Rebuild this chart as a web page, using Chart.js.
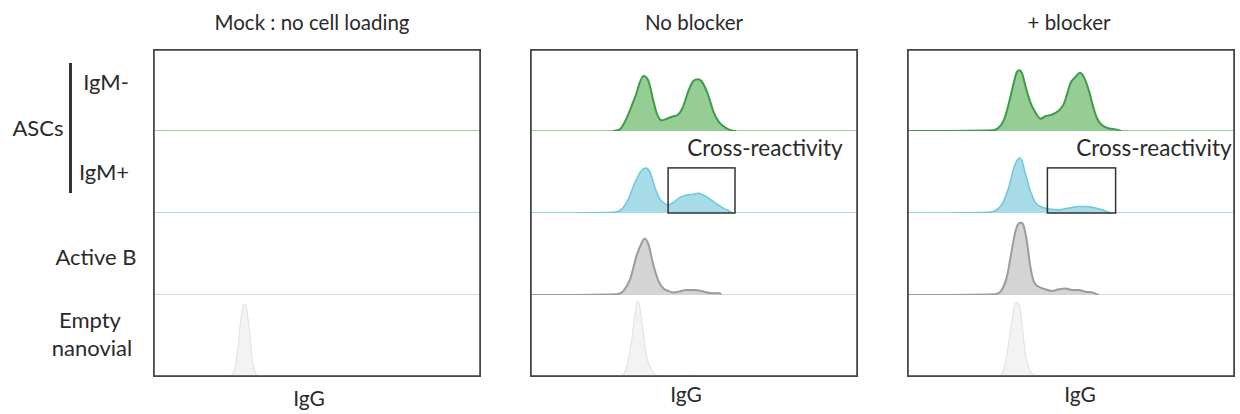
<!DOCTYPE html>
<html>
<head>
<meta charset="utf-8">
<script src="https://cdn.jsdelivr.net/npm/chart.js@4.4.0/dist/chart.umd.min.js"></script>
<style>
  body { margin: 0; width: 1240px; height: 414px; background: #fff; position: relative; overflow: hidden;
         font-family: Lato, "Open Sans", sans-serif; color: #2a2a2a; }
  .lbl { position: absolute; white-space: nowrap; line-height: 1; transform: translate(-50%, -50%); }
  .big { font-size: 22px; }
  .title { font-size: 20.5px; }
  .panel { position: absolute; top: 49px; width: 328px; height: 328px; }
  #bracket { position: absolute; left: 69px; top: 63px; width: 2.5px; height: 130px; background: #333; }
</style>
</head>
<body>

<div class="lbl title" style="left:312px; top:22px">Mock : no cell loading</div>
<div class="lbl title" style="left:694px; top:22px">No blocker</div>
<div class="lbl title" style="left:1069px; top:22px">+ blocker</div>

<div class="lbl big" style="left:38px; top:128px">ASCs</div>
<div id="bracket"></div>
<div class="lbl big" style="left:106px; top:82px">IgM-</div>
<div class="lbl big" style="left:104px; top:172px">IgM+</div>
<div class="lbl big" style="left:96px; top:257px">Active B</div>
<div class="lbl big" style="left:90px; top:320px">Empty</div>
<div class="lbl big" style="left:92px; top:348px">nanovial</div>

<div class="lbl big" style="left:765px; top:148px; font-size:22.5px">Cross-reactivity</div>
<div class="lbl big" style="left:1154px; top:148px; font-size:22.5px">Cross-reactivity</div>

<div class="lbl big" style="left:309px; top:397px; font-size:21px">IgG</div>
<div class="lbl big" style="left:686px; top:393px; font-size:21px">IgG</div>
<div class="lbl big" style="left:1080px; top:393px; font-size:21px">IgG</div>

<div class="panel" style="left:153px"><canvas id="mock" width="328" height="328"></canvas></div>
<div class="panel" style="left:530px"><canvas id="noBlocker" width="328" height="328"></canvas></div>
<div class="panel" style="left:907px"><canvas id="blocker" width="328" height="328"></canvas></div>

<script>
// IgG position (% of axis) and counts (% of row max)

// Mock : no cell loading
const mockIgMnegX = [0, 100];
const mockIgMnegY = [0, 0];
const mockIgMposX = [0, 100];
const mockIgMposY = [0, 0];
const mockActiveX = [0, 100];
const mockActiveY = [0, 0];
const mockEmptyX = [0, 23.0, 25.0, 26.0, 26.7, 27.5, 27.9, 28.5, 29.4, 30.3, 31.6, 32.6, 100];
const mockEmptyY = [0, 1, 11, 40, 68, 87, 89, 85, 56, 20, 2, 0, 0];

// No blocker
const noBlkIgMnegX = [0, 25.2, 27.4, 29.5, 32.0, 34.6, 36.1, 37.6, 38.8, 40.1, 41.7, 43.7, 45.2, 46.7, 48.3,
  49.8, 51.3, 52.6, 54.4, 55.9, 57.4, 58.9, 60.5, 62.8, 100];
const noBlkIgMnegY = [0, 0, 2, 16, 41, 67, 61, 37, 20, 13, 15, 18, 20, 30, 49,
  61, 63, 59, 43, 24, 12, 6, 2, 0, 0];
const noBlkIgMposX = [0, 25.6, 27.4, 29.5, 32.0, 34.0, 35.3, 36.6, 38.1, 39.6, 41.2, 42.2, 43.7, 45.7, 47.8,
  49.8, 51.3, 52.8, 54.9, 56.9, 58.9, 60.5, 62.0, 100];
const noBlkIgMposY = [0, 1, 3, 13, 37, 52, 55, 50, 31, 17, 11, 10, 13, 19, 22,
  23, 24, 22, 17, 11, 6, 3, 0, 0];
const noBlkActiveX = [0, 26.6, 28.5, 30.5, 32.5, 34.1, 34.9, 36.1, 37.6, 39.2, 40.7, 42.2, 43.7, 45.2, 47.8,
  49.8, 52.3, 53.9, 55.9, 57.9, 58.4, 100];
const noBlkActiveY = [0, 1, 5, 19, 48, 64, 69, 62, 37, 17, 8, 5, 3, 4, 6,
  6, 5, 3, 2, 2, 0, 0];
const noBlkEmptyX = [0, 26.9, 29.0, 30.5, 31.5, 32.3, 32.8, 33.5, 34.6, 35.6, 37.2, 38.7, 41.7, 50.8, 52.3, 100];
const noBlkEmptyY = [0, 1, 7, 32, 60, 85, 93, 85, 52, 24, 7, 2, 1, 2, 0, 0];

// + blocker
const blkIgMnegX = [0, 26.4, 27.9, 29.5, 31.0, 32.5, 33.5, 34.3, 35.1, 36.3, 37.6, 39.1, 40.7, 42.2, 44.2,
  46.3, 47.8, 48.8, 49.8, 51.4, 52.7, 53.9, 55.4, 56.8, 58.0, 59.5, 61.6, 63.6, 65.7, 100];
const blkIgMnegY = [0, 1, 4, 13, 33, 58, 72, 74, 70, 52, 35, 23, 15, 18, 20,
  25, 33, 45, 58, 66, 71, 66, 50, 29, 15, 7, 3, 2, 0, 0];
const blkIgMposX = [0, 24.9, 26.9, 29.0, 31.0, 32.5, 33.5, 34.3, 35.1, 36.1, 37.6, 39.1, 41.2, 43.2, 46.3,
  49.3, 52.4, 54.4, 56.5, 59.5, 62.6, 100];
const blkIgMposY = [0, 1, 3, 11, 31, 54, 64, 67, 63, 48, 27, 13, 7, 5, 4,
  6, 8, 8, 7, 4, 0, 0];
const blkActiveX = [0, 26.9, 29.0, 30.5, 32.0, 33.2, 34.0, 34.8, 35.6, 36.6, 37.6, 38.6, 40.2, 42.2, 44.2,
  46.3, 48.3, 50.4, 52.4, 54.4, 56.5, 58.7, 100];
const blkActiveY = [0, 1, 7, 23, 56, 80, 87, 88, 84, 64, 35, 17, 10, 7, 5,
  7, 8, 6, 6, 4, 3, 0, 0];
const blkEmptyX = [0, 27.9, 29.5, 30.8, 31.8, 32.8, 33.5, 34.3, 35.1, 36.1, 37.6, 39.1, 42.2, 51.4, 53.4, 100];
const blkEmptyY = [0, 1, 9, 36, 64, 87, 91, 87, 64, 28, 7, 2, 1, 2, 0, 0];

// Cross-reactivity gate on the IgM+ row: IgG range and top count
const gateNoBlk = [42.1, 62.5];
const gateBlk = [42.8, 63.6];
const gateTop = 55;

const rowIds = ['r0', 'r1', 'r2', 'r3'];
const rowStyles = [
  { line: '#3d9b4a', fill: '#95cd95', base: '#95d095', width: 2 },
  { line: '#70c6da', fill: '#a8dbe8', base: '#90d5e5', width: 1.5 },
  { line: '#9c9c9c', fill: '#d4d4d4', base: '#d8d8d8', width: 2 },
  { line: '#e4e4e4', fill: '#f3f3f3', base: '#e4e4e4', width: 1.2 }
];

const framePlugin = {
  id: 'frame',
  afterDraw(chart, args, opts) {
    const { ctx, chartArea: a } = chart;
    ctx.save();
    if (opts.gate) {
      const x = chart.scales.x, y = chart.scales.r1;
      const x0 = x.getPixelForValue(opts.gate[0]), x1 = x.getPixelForValue(opts.gate[1]);
      const y0 = y.getPixelForValue(gateTop), y1 = y.getPixelForValue(0);
      ctx.strokeStyle = '#333';
      ctx.lineWidth = 1.5;
      ctx.strokeRect(x0, y0, x1 - x0, y1 - y0);
    }
    ctx.strokeStyle = '#474747';
    ctx.lineWidth = 1.8;
    ctx.strokeRect(a.left + 0.9, a.top + 0.9, a.width - 1.8, a.height - 1.8);
    ctx.restore();
  }
};

function makePanel(id, series, gate) {
  const datasets = series.map((s, i) => {
    const st = rowStyles[i];
    return {
      data: s[0].map((x, k) => ({ x: x, y: s[1][k] })),
      yAxisID: rowIds[i],
      borderColor: st.line,
      backgroundColor: st.fill,
      borderWidth: st.width,
      fill: 'origin',
      pointRadius: 0,
      cubicInterpolationMode: 'monotone',
      segment: {
        borderColor: c => (c.p0.parsed.y === 0 && c.p1.parsed.y === 0) ? st.base : st.line
      }
    };
  });

  // stacked row axes: the first one created ends up at the bottom
  const scales = { x: { type: 'linear', min: 0, max: 100, display: false } };
  rowIds.slice().reverse().forEach(r => {
    scales[r] = {
      type: 'linear', position: 'left', min: 0, max: 100, stack: 'rows', stackWeight: 1,
      ticks: { display: false }, grid: { display: false, drawTicks: false }, border: { display: false },
      afterFit: s => { s.width = 0; }
    };
  });

  new Chart(document.getElementById(id), {
    type: 'line',
    data: { datasets },
    options: {
      responsive: false,
      animation: false,
      devicePixelRatio: 1,
      events: [],
      layout: { padding: 0 },
      scales,
      plugins: {
        legend: { display: false },
        tooltip: { enabled: false },
        frame: { gate }
      }
    },
    plugins: [framePlugin]
  });
}

makePanel('mock', [
  [mockIgMnegX, mockIgMnegY], [mockIgMposX, mockIgMposY], [mockActiveX, mockActiveY], [mockEmptyX, mockEmptyY]
], null);
makePanel('noBlocker', [
  [noBlkIgMnegX, noBlkIgMnegY], [noBlkIgMposX, noBlkIgMposY], [noBlkActiveX, noBlkActiveY], [noBlkEmptyX, noBlkEmptyY]
], gateNoBlk);
makePanel('blocker', [
  [blkIgMnegX, blkIgMnegY], [blkIgMposX, blkIgMposY], [blkActiveX, blkActiveY], [blkEmptyX, blkEmptyY]
], gateBlk);
</script>
</body>
</html>
